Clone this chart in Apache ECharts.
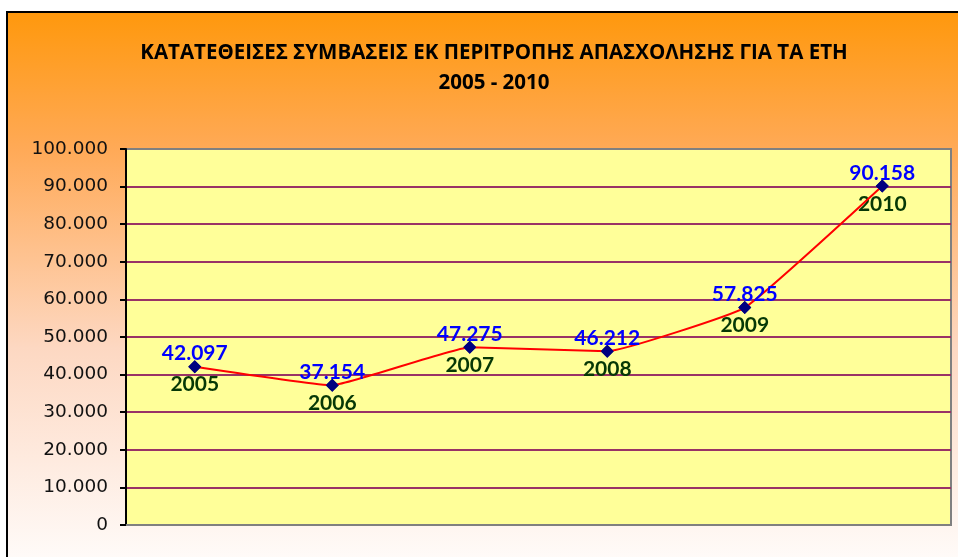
<!DOCTYPE html>
<html>
<head>
<meta charset="utf-8">
<script src="https://cdn.jsdelivr.net/npm/echarts@6/dist/echarts.min.js"></script>
<style>
html, body { margin: 0; padding: 0; background: #fff; }
#main { width: 958px; height: 557px; }
</style>
</head>
<body>
<div id="main"></div>
<script type="text/javascript">
// δεδομένα
var years = ['2005', '2006', '2007', '2008', '2009', '2010'];
var contracts = [42097, 37154, 47275, 46212, 57825, 90158];
var yTicks = [0, 10000, 20000, 30000, 40000, 50000, 60000, 70000, 80000, 90000, 100000];

function fmt(v) {
	return String(v).replace(/\B(?=(\d{3})+(?!\d))/g, '.');
}

var myChart = echarts.init(document.getElementById('main'));

var option = {
	animation: false,
	graphic: [{
		type: 'rect',
		z: -10,
		shape: { x: 7, y: 12, width: 960, height: 560 },
		style: {
			stroke: '#000',
			lineWidth: 2,
			fill: new echarts.graphic.LinearGradient(0, 0, 0, 1, [
				{ offset: 0, color: '#FF980C' },
				{ offset: 0.25, color: '#FFAA58' },
				{ offset: 0.6, color: '#FDD8C2' },
				{ offset: 1, color: '#FFFDFC' }
			])
		}
	}],
	title: {
		text: 'ΚΑΤΑΤΕΘΕΙΣΕΣ ΣΥΜΒΑΣΕΙΣ ΕΚ ΠΕΡΙΤΡΟΠΗΣ ΑΠΑΣΧΟΛΗΣΗΣ ΓΙΑ ΤΑ ΕΤΗ\n2005 - 2010',
		left: 489,
		top: 33,
		textAlign: 'center',
		textStyle: {
			fontFamily: 'Open Sans',
			fontWeight: 'bold',
			fontSize: 20.5,
			lineHeight: 30,
			color: '#000'
		}
	},
	grid: {
		left: 126, top: 149, right: 7, bottom: 32,
		show: true,
		backgroundColor: '#FFFF99',
		borderColor: '#808080',
		borderWidth: 2
	},
	xAxis: {
		type: 'category',
		data: years,
		boundaryGap: true,
		axisLine: { show: true, lineStyle: { color: '#808080', width: 2 } },
		axisTick: { show: false },
		axisLabel: { show: false }
	},
	yAxis: {
		type: 'value',
		min: yTicks[0],
		max: yTicks[yTicks.length - 1],
		interval: 10000,
		axisLine: { show: true, lineStyle: { color: '#000', width: 2 } },
		axisTick: { show: true, length: 6, lineStyle: { color: '#000', width: 2 } },
		axisLabel: {
			formatter: function (v) { return fmt(v); },
			fontFamily: 'DejaVu Sans',
			fontSize: 18.5,
			color: '#111',
			margin: 18
		},
		splitLine: {
			show: true,
			showMinLine: false,
			showMaxLine: false,
			lineStyle: { color: '#993366', width: 2 }
		}
	},
	series: [{
		type: 'scatter',
		data: contracts,
		symbol: 'diamond',
		symbolSize: 13,
		itemStyle: { color: '#000080', opacity: 1 },
		label: {
			show: true,
			position: 'bottom',
			distance: 1,
			formatter: function (p) { return years[p.dataIndex]; },
			fontFamily: 'Lato',
			fontWeight: 'bold',
			fontSize: 21,
			color: '#063806'
		},
		z: 2
	}, {
		type: 'line',
		data: contracts,
		smooth: 0.1,
		symbol: 'diamond',
		symbolSize: 13,
		itemStyle: { color: '#000080' },
		lineStyle: { color: '#FF0000', width: 2 },
		label: {
			show: true,
			position: 'top',
			distance: -4,
			formatter: function (p) { return fmt(p.value); },
			fontFamily: 'Lato',
			fontWeight: 'bold',
			fontSize: 21,
			color: '#0000FF'
		},
		z: 3
	}]
};

myChart.setOption(option);
</script>
</body>
</html>
